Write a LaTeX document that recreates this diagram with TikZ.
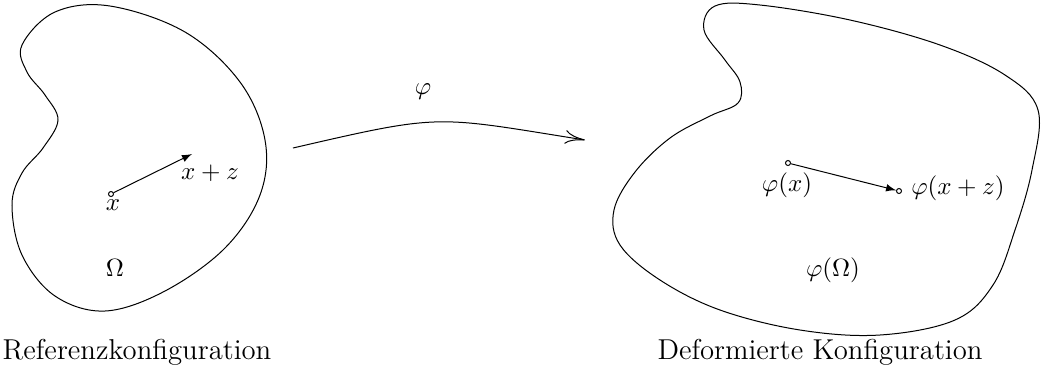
\documentclass[tikz,border=0pt]{standalone}
\usepackage{amsmath,amssymb}
\usepackage{tikz}
\usetikzlibrary{arrows,arrows.meta,positioning,calc}

\begin{document}
\begin{tikzpicture}[
    x=0.4pt, y=-0.4pt,
    pt/.style={circle, draw, fill=white, inner sep=0pt, minimum size=2pt},
    lbl/.style={inner sep=1pt},
    caption/.style={font=\fontsize{11.5}{14}\selectfont},
    arr/.style={->, >=latex},
    maparr/.style={-{To[length=8pt,width=5.5pt]}},
  ]
    \useasboundingbox (0,0) rectangle (1041,376);

    % reference body
    \draw plot[smooth cycle, tension=0.6] coordinates {
      (22,45) (55,12) (110,6) (185,32) (240,82) (265,140) (260,195)
      (225,248) (165,291) (105,311) (55,296) (22,255) (12,205)
      (22,173) (43,148) (58,120) (45,95) (27,72)};

    % deformed body
    \draw plot[smooth cycle, tension=0.6] coordinates {
      (704,30) (715,6) (760,5) (850,20) (940,45) (1005,75) (1038,110)
      (1032,170) (1015,230) (993,285) (955,320) (880,335) (800,330)
      (720,310) (660,280) (620,245) (614,210) (635,172) (670,138)
      (710,116) (738,103) (740,82) (725,60)};

    % reference configuration
    \node[pt] (x) at (111,194) {};
    \coordinate (xz) at (192,154);
    \draw[arr] (x) -- (xz);
    \node[lbl] (xlbl) at (113,205) {$x$};
    \node[lbl] (xzlbl) at (210,173) {$x+z$};
    \node[lbl] (om) at (115,268) {$\Omega$};

    % deformed configuration
    \node[pt] (px) at (788,163) {};
    \node[pt] (pxz) at (899,191) {};
    \draw[arr] (px) -- (pxz);
    \node[lbl] (pxlbl) at (787,185) {$\varphi(x)$};
    \node[lbl] (pxzlbl) at (958,188) {$\varphi(x+z)$};
    \node[lbl] (pom) at (833,270) {$\varphi(\Omega)$};

    % deformation map
    \coordinate (ms) at (293,148);
    \coordinate (me) at (585,140);
    \draw[maparr] (ms) .. controls (444,113) and (434,116) .. (me);
    \node[lbl] (phi) at (423,92) {$\varphi$};

    \node[caption] (ref) at (137,352) {Referenzkonfiguration};
    \node[caption] (def) at (820,352) {Deformierte Konfiguration};
  \end{tikzpicture}
\end{document}
